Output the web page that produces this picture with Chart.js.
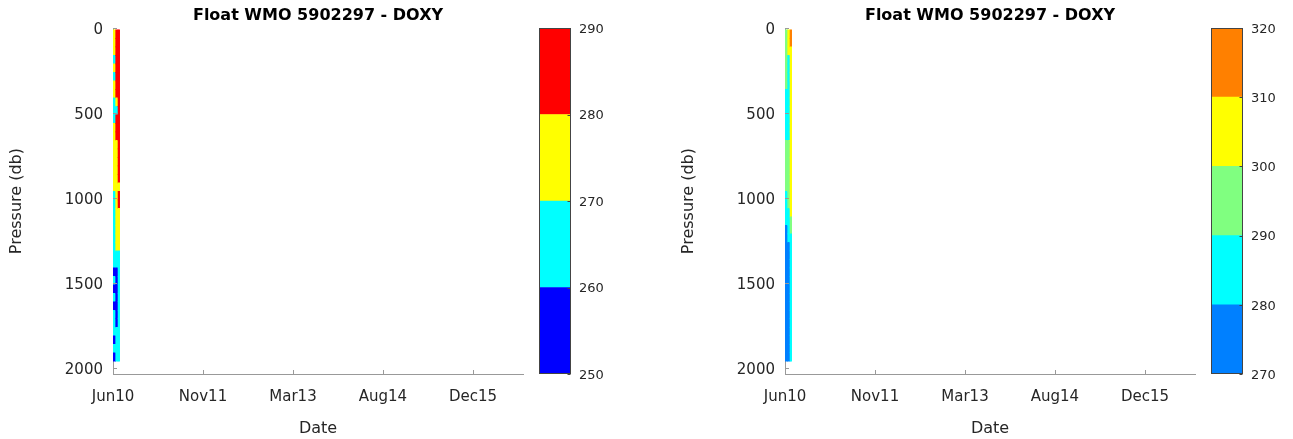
<!DOCTYPE html>
<html>
<head>
<meta charset="utf-8">
<script src="https://cdn.jsdelivr.net/npm/chart.js@4.4.1/dist/chart.umd.min.js"></script>
<style>
  html, body { margin: 0; padding: 0; background: #fff; overflow: hidden; }
  .box { position: absolute; top: 0; height: 439px; }
</style>
</head>
<body>
<div class="box" style="left:0;width:530px"><canvas id="doxy-left"></canvas></div>
<div class="box" style="left:530px;width:120px"><canvas id="cbar-left"></canvas></div>
<div class="box" style="left:672px;width:530px"><canvas id="doxy-right"></canvas></div>
<div class="box" style="left:1202px;width:91px"><canvas id="cbar-right"></canvas></div>
<script>
const plotTitle = "Float WMO 5902297 - DOXY";
const xTickValues = [0, 500, 1000, 1500, 2000];
const xTickLabels = ["Jun10", "Nov11", "Mar13", "Aug14", "Dec15"];
const yTickValues = [0, 500, 1000, 1500, 2000];

// profile column edges (days after first profile)
const profileEdges = [0, 15, 28, 37];

// pressure levels (db), centre of each 50 db cell
const pres = [35, 85, 135, 185, 235, 285, 335, 385, 435, 485, 535, 585, 635, 685, 735, 785, 835, 885, 935, 985,
  1035, 1085, 1135, 1185, 1235, 1285, 1335, 1385, 1435, 1485, 1535, 1585, 1635, 1685, 1735, 1785, 1835, 1885, 1935];

// left panel DOXY
const doxyLeft1 = [275, 276, 274, 265, 275, 266, 273, 275, 266, 265, 268, 274, 275, 274, 273, 274, 273, 272, 271, 268,
  266, 265, 264, 263, 263, 262, 261, 260.5, 259, 260, 259, 261, 259, 260.5, 262, 264, 258, 264, 259];
const doxyLeft2 = [282, 283, 281, 282, 281, 280.5, 281, 282, 276, 268, 281, 282, 281, 278, 277, 278, 277, 276, 277, 276,
  275, 274, 273, 272, 271, 270.5, 266, 262, 258, 257, 256, 257, 256, 258, 259, 262, 263, 265, 264];
const doxyLeft3 = [285, 286, 285, 284, 284, 283, 283, 282, 283, 282, 283, 284, 284, 283, 283, 284, 283, 282, 279, 282,
  281, 278, 276, 275, 273, 271, 268, 265, 264, 263, 264, 263, 264, 263, 264, 265, 265, 266, 266];

// right panel DOXY
const doxyRight1 = [298, 297, 296, 295, 294, 293, 292, 289, 288, 287, 287, 288, 289, 291, 292, 293, 293, 292, 291, 289,
  287, 285, 282, 279, 277, 276, 275, 274, 275, 274, 273, 274, 275, 274, 273, 274, 275, 274, 276];
const doxyRight2 = [305, 304, 302, 288, 287, 286, 285, 284, 284, 285, 286, 287, 289, 291, 292, 293, 294, 295, 294, 293,
  291, 289, 287, 285, 283, 279, 278, 277, 276, 275, 276, 275, 274, 275, 276, 275, 274, 276, 277];
const doxyRight3 = [314, 312, 308, 306, 305, 304, 303, 302, 301, 301, 302, 302, 301, 302, 301, 302, 301, 302, 301, 301,
  300.5, 300.5, 296, 292, 287, 284, 283, 283, 282, 282, 283, 282, 282, 283, 282, 282, 283, 282, 281];

const levelsLeft = [250, 260, 270, 280, 290];
const colorsLeft = ["#0000ff", "#00ffff", "#ffff00", "#ff0000"];
const levelsRight = [270, 280, 290, 300, 310, 320];
const colorsRight = ["#0080ff", "#00ffff", "#80ff80", "#ffff00", "#ff8000"];

const FONT = "'DejaVu Sans', sans-serif";
const TEXT = "#262626";
const AXIS = "#999999";

function colorFor(v, levels, colors) {
  for (let i = colors.length - 1; i >= 0; i--) {
    if (v >= levels[i]) return colors[i];
  }
  return colors[0];
}

// one bar per profile per pressure cell
function buildCells(profiles) {
  const cells = [];
  profiles.forEach((vals, i) => {
    vals.forEach((v, k) => {
      cells.push({ y: pres[k], x: [profileEdges[i], profileEdges[i + 1]], v: v });
    });
  });
  return cells;
}

// MATLAB style ticks pointing into the axes
const inwardTicks = {
  id: "inwardTicks",
  afterDatasetsDraw(chart) {
    const { ctx, chartArea, scales } = chart;
    ctx.save();
    ctx.strokeStyle = AXIS;
    ctx.lineWidth = 1;
    ctx.beginPath();
    scales.x.ticks.forEach((t) => {
      const px = Math.round(scales.x.getPixelForValue(t.value)) + 0.5;
      ctx.moveTo(px, chartArea.bottom);
      ctx.lineTo(px, chartArea.bottom - 4);
    });
    scales.y.ticks.forEach((t) => {
      const py = Math.round(scales.y.getPixelForValue(t.value)) + 0.5;
      ctx.moveTo(chartArea.left, py);
      ctx.lineTo(chartArea.left + 4, py);
    });
    ctx.stroke();
    ctx.restore();
  },
};

const cbarFrame = {
  id: "cbarFrame",
  afterDatasetsDraw(chart) {
    const { ctx, chartArea, scales } = chart;
    ctx.save();
    ctx.strokeStyle = "#444444";
    ctx.lineWidth = 1;
    const l = Math.round(chartArea.left) + 0.5;
    const r = Math.round(chartArea.right) - 0.5;
    const t = Math.round(chartArea.top) + 0.5;
    const b = Math.round(chartArea.bottom) - 0.5;
    ctx.strokeRect(l, t, r - l, b - t);
    ctx.beginPath();
    scales.y.ticks.forEach((tk) => {
      const py = Math.round(scales.y.getPixelForValue(tk.value)) + 0.5;
      ctx.moveTo(r, py);
      ctx.lineTo(r - 3, py);
    });
    ctx.stroke();
    ctx.restore();
  },
};

function sectionChart(id, profiles, levels, colors) {
  return new Chart(document.getElementById(id), {
    type: "bar",
    data: {
      datasets: [
        {
          data: buildCells(profiles),
          backgroundColor: (c) => colorFor(c.raw.v, levels, colors),
          borderWidth: 0,
          barPercentage: 1,
          categoryPercentage: 1,
        },
      ],
    },
    options: {
      indexAxis: "y",
      responsive: true,
      maintainAspectRatio: false,
      animation: false,
      layout: { padding: { left: 0, right: 7, top: 0, bottom: 0 } },
      plugins: {
        legend: { display: false },
        tooltip: { enabled: false },
        title: {
          display: true,
          text: plotTitle,
          fullSize: false,
          color: "#000",
          font: { family: FONT, size: 16, weight: "bold" },
          padding: { top: 6, bottom: 3 },
        },
      },
      scales: {
        x: {
          type: "linear",
          position: "bottom",
          min: 0,
          max: 2278,
          grid: { display: false, drawTicks: false },
          border: { display: true, color: AXIS },
          afterBuildTicks: (s) => {
            s.ticks = xTickValues.map((v) => ({ value: v }));
          },
          afterFit: (s) => {
            s.height = 65;
          },
          ticks: {
            autoSkip: false,
            maxRotation: 0,
            padding: 14,
            color: TEXT,
            font: { family: FONT, size: 15 },
            callback: (v) => xTickLabels[xTickValues.indexOf(v)],
          },
          title: {
            display: true,
            text: "Date",
            color: TEXT,
            font: { family: FONT, size: 16 },
            padding: { top: 0, bottom: 1 },
          },
        },
        y: {
          type: "linear",
          position: "left",
          reverse: true,
          offset: false,
          min: 0,
          max: 2035,
          grid: { display: false, drawTicks: false },
          border: { display: true, color: AXIS },
          afterBuildTicks: (s) => {
            s.ticks = yTickValues.map((v) => ({ value: v }));
          },
          afterFit: (s) => {
            s.width = 113;
          },
          ticks: {
            padding: 10,
            labelOffset: 2,
            color: TEXT,
            font: { family: FONT, size: 15 },
            callback: (v) => String(v),
          },
          title: {
            display: true,
            text: "Pressure (db)",
            color: TEXT,
            font: { family: FONT, size: 16 },
            padding: { top: 7, bottom: 0 },
          },
        },
      },
    },
    plugins: [inwardTicks],
  });
}

function colorbarChart(id, levels, colors, axisWidth) {
  const datasets = colors.map((c, i) => ({
    data: [[levels[i], levels[i + 1]]],
    backgroundColor: c,
    borderWidth: 0,
    barPercentage: 1,
    categoryPercentage: 1,
    grouped: false,
  }));
  return new Chart(document.getElementById(id), {
    type: "bar",
    data: { labels: [""], datasets },
    options: {
      responsive: true,
      maintainAspectRatio: false,
      animation: false,
      layout: { padding: { left: 9, top: 28, bottom: 65, right: 0 } },
      plugins: { legend: { display: false }, tooltip: { enabled: false } },
      scales: {
        x: { display: false },
        y: {
          position: "right",
          min: levels[0],
          max: levels[levels.length - 1],
          grid: { display: false, drawTicks: false },
          border: { display: false },
          afterBuildTicks: (s) => {
            s.ticks = levels.map((v) => ({ value: v }));
          },
          afterFit: (s) => {
            s.width = axisWidth;
          },
          ticks: {
            padding: 8,
            labelOffset: 1.5,
            color: TEXT,
            font: { family: FONT, size: 13 },
          },
        },
      },
    },
    plugins: [cbarFrame],
  });
}

sectionChart("doxy-left", [doxyLeft1, doxyLeft2, doxyLeft3], levelsLeft, colorsLeft);
colorbarChart("cbar-left", levelsLeft, colorsLeft, 79);
sectionChart("doxy-right", [doxyRight1, doxyRight2, doxyRight3], levelsRight, colorsRight);
colorbarChart("cbar-right", levelsRight, colorsRight, 50);
</script>
</body>
</html>
